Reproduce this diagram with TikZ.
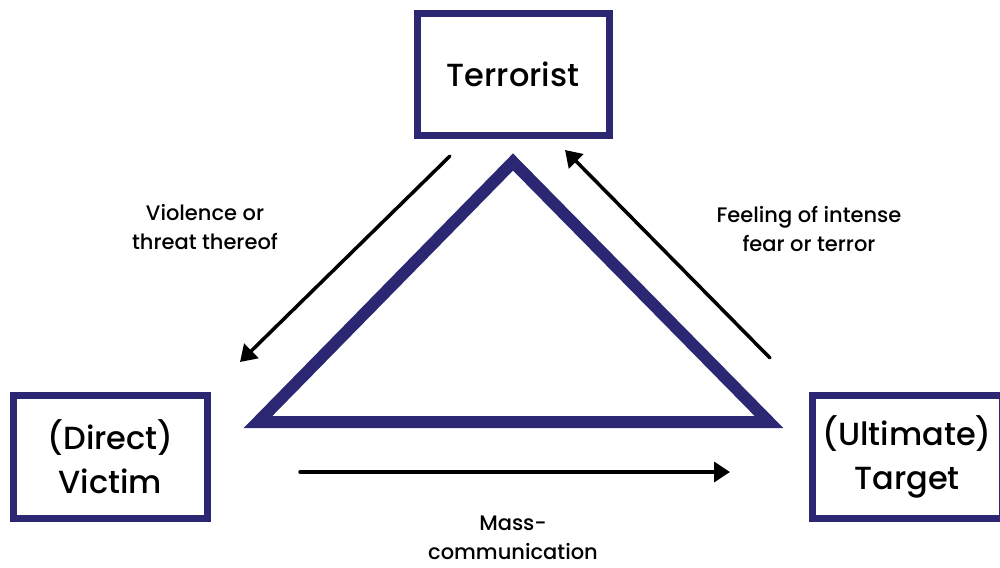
\documentclass[tikz,border=0pt]{standalone}
\usepackage{fontspec}
\setmainfont{Poppins}[UprightFont={* Medium}]
\usetikzlibrary{arrows.meta}
\definecolor{navy}{RGB}{44,39,114}
\tikzset{
  box/.style={draw=navy, line width=7pt, fill=white, inner sep=0pt, align=center, font=\fontsize{32}{44}\selectfont},
  lbl/.style={align=center, font=\fontsize{21}{29}\selectfont},
  arr/.style={line width=3.5pt, -{Triangle[length=16pt,width=20pt]}, line cap=round},
}
\begin{document}
\begin{tikzpicture}[x=1pt,y=-1pt]
\useasboundingbox (0,0) rectangle (1000,567);
% boxes
\node[box, minimum width=192pt, minimum height=121pt] (terr) at (513,74.5) {Terrorist};
\node[box, minimum width=194pt, minimum height=123pt] (vict) at (110.5,457) {(Direct)\\Victim};
\node[box, minimum width=190pt, minimum height=123pt] (targ) at (907,457) {(Ultimate)\\Target};
% central triangle
\coordinate (apex) at (513,162);
\coordinate (bl) at (258,422);
\coordinate (br) at (769,422);
\draw[navy, line width=12pt, line join=miter] (apex) -- (bl) -- (br) -- cycle;
% arrows
\coordinate (a1s) at (450,156);
\coordinate (a1e) at (240,362);
\coordinate (a2s) at (770,358);
\coordinate (a2e) at (565,150);
\coordinate (a3s) at (300,472);
\coordinate (a3e) at (730,472);
\draw[arr] (a1s) -- (a1e);
\draw[arr] (a2s) -- (a2e);
\draw[arr] (a3s) -- (a3e);
% labels
\node[lbl] (l1) at (205,227) {Violence or\\threat thereof};
\node[lbl] (l2) at (809,229) {Feeling of intense\\fear or terror};
\node[lbl] (l3) at (513,538) {Mass-\\communication};
\end{tikzpicture}
\end{document}
